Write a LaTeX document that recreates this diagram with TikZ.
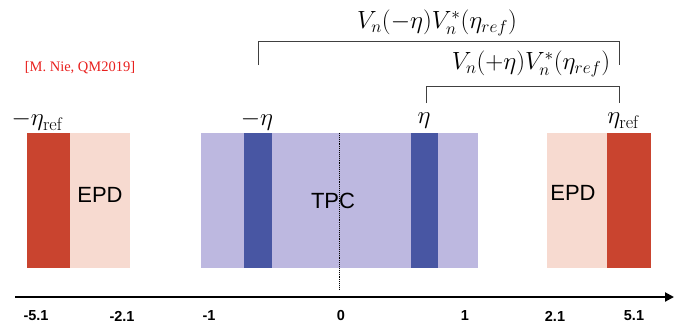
\documentclass[tikz,border=0pt]{standalone}
\usepackage{fontspec}
\setsansfont{Liberation Sans}
\newfontfamily\refserif{Liberation Serif}
\usetikzlibrary{arrows.meta}
\definecolor{epdlight}{HTML}{F7DAD0}
\definecolor{epddark}{HTML}{C9442F}
\definecolor{tpclight}{HTML}{BDB8E0}
\definecolor{tpcdark}{HTML}{4856A3}
\definecolor{refred}{HTML}{E8201E}
\tikzset{
  x=1pt,y=1pt,
  ticklbl/.style={font=\sffamily\bfseries\fontsize{14.5}{16}\selectfont,inner sep=0pt},
  etalbl/.style={font=\fontsize{26}{30}\selectfont,inner sep=0pt},
  formula/.style={font=\fontsize{25}{29}\selectfont,inner sep=0pt},
  detlbl/.style={font=\sffamily\fontsize{22}{26}\selectfont,inner sep=0pt},
  bracket/.style={draw=black!75,line width=1pt},
}
\begin{document}
\begin{tikzpicture}
\useasboundingbox (0,0) rectangle (676,325);
% boxes
\fill[epdlight] (70,57) rectangle (130,192);
\fill[epddark] (27,57) rectangle (70,192);
\fill[tpclight] (201,57) rectangle (478,192);
\fill[tpcdark] (244,57) rectangle (272,192);
\fill[tpcdark] (411,57) rectangle (438,192);
\fill[epdlight] (547,57) rectangle (607,192);
\fill[epddark] (607,57) rectangle (651,192);
% dashed center line
\coordinate (ctop) at (339,192);
\coordinate (cbot) at (339,35);
\draw[densely dotted,line width=0.9pt] (ctop) -- (cbot);
% axis
\coordinate (axl) at (15,28);
\coordinate (axr) at (674,28);
\draw[line width=2pt,-{Triangle[length=9pt,width=9pt]}] (axl) -- (axr);
% tick labels
\node[ticklbl] (t1) at (36,9) {-5.1};
\node[ticklbl] (t2) at (122,9) {-2.1};
\node[ticklbl] (t3) at (209,9) {-1};
\node[ticklbl] (t4) at (341,9) {0};
\node[ticklbl] (t5) at (465,9) {1};
\node[ticklbl] (t6) at (555,9) {2.1};
\node[ticklbl] (t7) at (634,9) {5.1};
% detector labels
\node[detlbl] (epdl) at (100,130) {EPD};
\node[detlbl] (tpc) at (333,124) {TPC};
\node[detlbl] (epdr) at (573,132) {EPD};
% eta labels
\node[etalbl] (mer) at (37,204) {$-\eta_{\mathrm{ref}}$};
\node[etalbl] (me) at (257,204) {$-\eta$};
\node[etalbl] (pe) at (424,204) {$\eta$};
\node[etalbl] (per) at (623,204) {$\eta_{\mathrm{ref}}$};
% reference text
\node[font=\refserif\fontsize{14.5}{16}\selectfont,text=refred,inner sep=0pt] (cite) at (80,257) {[M. Nie, QM2019]};
% brackets
\coordinate (b1a) at (258,260);
\coordinate (b1b) at (619,260);
\coordinate (b2a) at (426,222);
\coordinate (b2b) at (619,222);
\draw[bracket] (b1a) -- ++(0,24) -| (b1b);
\draw[bracket] (b2a) -- ++(0,17) -| (b2b);
\node[formula] (f1) at (437,302) {$V_n(-\eta)V_n^*(\eta_{ref})$};
\node[formula] (f2) at (531,261) {$V_n(+\eta)V_n^*(\eta_{ref})$};
\end{tikzpicture}
\end{document}
